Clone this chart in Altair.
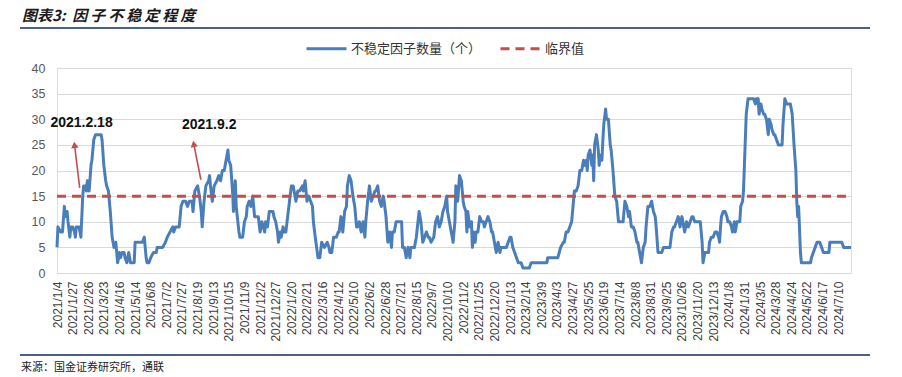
import altair as alt
import pandas as pd

# ---------------- data ----------------
x_labels = [
    "2021/1/4", "2021/1/27", "2021/2/26", "2021/3/23", "2021/4/16", "2021/5/14",
    "2021/6/8", "2021/7/2", "2021/7/27", "2021/8/19", "2021/9/13", "2021/10/15",
    "2021/11/9", "2021/12/2", "2021/12/27", "2022/1/20", "2022/2/21", "2022/3/16",
    "2022/4/12", "2022/5/10", "2022/6/2", "2022/6/28", "2022/7/21", "2022/8/15",
    "2022/9/7", "2022/10/10", "2022/11/2", "2022/11/25", "2022/12/20", "2023/1/13",
    "2023/2/14", "2023/3/9", "2023/4/3", "2023/4/27", "2023/5/25", "2023/6/19",
    "2023/7/14", "2023/8/8", "2023/8/31", "2023/9/25", "2023/10/26", "2023/11/20",
    "2023/12/13", "2024/1/8", "2024/1/31", "2024/3/5", "2024/3/28", "2024/4/24",
    "2024/5/22", "2024/6/17", "2024/7/10",
]
label_step = 17          # trading days between axis labels
last_day = 864           # index of the last trading day shown

# (trading-day index, number of unstable factors)
points = [
    (0, 5), (1, 9), (4, 8), (6, 8), (8, 13), (9, 11), (11, 12), (12, 10), (14, 7), (15, 9),
    (17, 9), (19, 8), (20, 7), (21, 9), (24, 9), (26, 7), (28, 15), (29, 17), (31, 17), (32, 16),
    (33, 18), (35, 16), (37, 21), (38, 22), (40, 26), (42, 27), (48, 27), (49, 26), (51, 21), (53, 18),
    (54, 17), (56, 16), (58, 12), (60, 7), (62, 5), (64, 6), (66, 2), (68, 4), (69, 3), (71, 4),
    (73, 4), (74, 3), (76, 2), (78, 4), (80, 2), (84, 2), (85, 6), (89, 6), (93, 6), (95, 7),
    (97, 3), (98, 2), (100, 2), (102, 3), (105, 4), (108, 4), (109, 5), (115, 5), (118, 6), (120, 7),
    (123, 8), (126, 9), (127, 8), (129, 9), (133, 9), (135, 13), (137, 14),
    (140, 14), (142, 13), (144, 14), (147, 14), (148, 12), (150, 16), (153, 17), (155, 15), (157, 12),
    (158, 9), (160, 14), (162, 17), (165, 18), (166, 19), (167, 17), (169, 14), (171, 17), (174, 18),
    (176, 19), (178, 18), (180, 20), (182, 20), (184, 22), (186, 24), (187, 22), (189, 21), (191, 16),
    (192, 12), (194, 18), (195, 13), (198, 8), (199, 7), (202, 7), (204, 10), (206, 11), (207, 13),
    (209, 14), (211, 13), (213, 15), (215, 11), (217, 11), (219, 11), (221, 8), (223, 10), (226, 8),
    (227, 10), (229, 9), (231, 12), (235, 12), (236, 11), (238, 10), (240, 8), (241, 6), (243, 8),
    (244, 7), (246, 9), (247, 8), (249, 8), (251, 11), (253, 14), (255, 17), (257, 17), (259, 15),
    (260, 14), (262, 16), (264, 16), (267, 17), (268, 16), (270, 18), (272, 14), (274, 15), (276, 14),
    (278, 13),
    (279, 10), (281, 7), (284, 3), (286, 3), (288, 6), (291, 5), (294, 6), (296, 5), (297, 4),
    (299, 4), (301, 7), (304, 7), (306, 8), (307, 8), (309, 11), (311, 8), (313, 12), (315, 13),
    (316, 17), (318, 19), (320, 18), (322, 15), (324, 13), (326, 9), (327, 9), (329, 10), (331, 8),
    (333, 10), (335, 7), (336, 10), (338, 14), (340, 17), (342, 14), (344, 15), (346, 16), (347, 16),
    (349, 17), (351, 14), (353, 13), (355, 15), (356, 14), (358, 11), (360, 6), (362, 8), (364, 5),
    (365, 8), (367, 8), (369, 10), (373, 10), (375, 10), (376, 5), (378, 5), (380, 3), (382, 5),
    (384, 3), (385, 5), (389, 5), (391, 7), (394, 12), (396, 10), (398, 6), (400, 7), (402, 8),
    (404, 7), (405, 7), (407, 6), (410, 7), (412, 10), (414, 11),
    (416, 9), (418, 10), (420, 12), (422, 13), (424, 15), (425, 12), (427, 10), (429, 8), (431, 6),
    (433, 10), (434, 17), (436, 14), (438, 19), (440, 18), (442, 14), (443, 13), (445, 12), (446, 8),
    (447, 12), (449, 9), (451, 10), (452, 5), (453, 8), (455, 6), (456, 8), (458, 8), (460, 11),
    (462, 10), (464, 10), (465, 9), (467, 10), (469, 11), (471, 10), (473, 8), (474, 8), (476, 6),
    (478, 4), (480, 6), (482, 4), (483, 5), (485, 5), (489, 5), (491, 6), (493, 7), (494, 7),
    (496, 5), (498, 4), (500, 3), (502, 2), (505, 2), (507, 1), (514, 1), (516, 2), (533, 2),
    (534, 3), (545, 3), (548, 5), (551, 6), (552, 6), (554, 8), (556, 8),
    (558, 9), (560, 10), (562, 14), (563, 16), (565, 16), (567, 17), (569, 20), (571, 20), (573, 22),
    (574, 21), (576, 22), (577, 20), (578, 23), (580, 24), (582, 21), (583, 23), (584, 18), (585, 25),
    (587, 27), (589, 24), (590, 21), (591, 23), (593, 22), (594, 26), (595, 29), (597, 32), (598, 30),
    (600, 30), (602, 25), (603, 24), (605, 20), (607, 15), (609, 14), (611, 10), (612, 10), (616, 10),
    (618, 14), (620, 13), (622, 11), (623, 12), (625, 9), (627, 9), (629, 8), (631, 6), (632, 6),
    (634, 4), (636, 2), (638, 5), (640, 6), (641, 9), (643, 13), (645, 13), (647, 14), (649, 12),
    (651, 11), (652, 9), (654, 4), (656, 4), (658, 4), (660, 5), (661, 5), (663, 5), (667, 5),
    (669, 8), (671, 9), (672, 9), (674, 10), (676, 11), (678, 9), (680, 11), (681, 10), (683, 8),
    (685, 10), (687, 9), (689, 10), (691, 11), (692, 11), (694, 10), (698, 10),
    (700, 10), (702, 6), (703, 2), (705, 4), (707, 4), (709, 4), (710, 6), (712, 7), (714, 7),
    (716, 8), (718, 8), (720, 7), (721, 6), (722, 9), (723, 11), (725, 12), (727, 12), (729, 11),
    (730, 10), (732, 10), (734, 9), (735, 8), (737, 10), (738, 8), (740, 10), (743, 10), (744, 13),
    (746, 14), (747, 16), (749, 26), (750, 31), (752, 34), (758, 34), (760, 33), (761, 34), (763, 34),
    (764, 31), (766, 33), (767, 32), (769, 31), (770, 31), (772, 30), (774, 27), (775, 30), (777, 29),
    (778, 28), (780, 27), (781, 27), (783, 26), (785, 25), (789, 25), (790, 29), (792, 34), (794, 33),
    (798, 33), (800, 31), (801, 28), (802, 25), (804, 20), (805, 14), (806, 11), (807, 13), (809, 4),
    (810, 2), (820, 2), (821, 3), (825, 5), (827, 6), (830, 6), (832, 5), (834, 4), (840, 4),
    (841, 6), (843, 6), (854, 6), (856, 5), (864, 5),
]
day_idx = [p[0] for p in points]
factor_count = [p[1] for p in points]

threshold = 15
series_names = ["不稳定因子数量（个）", "临界值"]

ann_text = ["2021.2.18", "2021.9.2"]
ann_text_x = [26.7, 165.6]
ann_text_y = [29.3, 28.9]
arrow_x0 = [24.7, 156.6]
arrow_y0 = [16.6, 18.2]
arrow_x1 = [19.1, 148.8]
arrow_y1 = [25.0, 25.2]
arrow_angle = [353, 349]

title_text = "图表3:\u2009 因\u2009子\u2009不\u2009稳\u2009定\u2009程\u2009度"
source_text = "来源：国金证券研究所，通联"

# ---------------- chart ----------------
BLUE = "#4A7EBB"
RED = "#C0504D"
CJK = "Noto Sans CJK SC"

line_df = pd.DataFrame({"idx": day_idx, "value": factor_count, "series": series_names[0]})
thr_df = pd.DataFrame({"idx": [0, last_day], "value": [threshold, threshold], "series": series_names[1]})
ann_df = pd.DataFrame({"text": ann_text, "x": ann_text_x, "y": ann_text_y})
arrow_df = pd.DataFrame({"x0": arrow_x0, "y0": arrow_y0, "x1": arrow_x1, "y1": arrow_y1, "angle": arrow_angle})

label_js = "[" + ",".join("'" + s + "'" for s in x_labels) + "]"
tick_vals = [i * label_step for i in range(len(x_labels))]

x_scale = alt.Scale(domain=[0, last_day], nice=False, zero=False)
y_scale = alt.Scale(domain=[0, 40], nice=False)

x_axis = alt.Axis(
    values=tick_vals, labelExpr=label_js + "[round(datum.value/" + str(label_step) + ")]",
    labelAngle=270, labelOverlap=False, labelSeparation=0, grid=False, ticks=False, domain=False,
    title=None, labelFont="Liberation Sans", labelFontSize=12, labelColor="#404040", labelPadding=8,
)
y_axis = alt.Axis(
    values=list(range(0, 41, 5)), grid=True, gridColor="#D9D9D9", gridWidth=1,
    ticks=False, domain=False, title=None, labelFont="Liberation Sans", labelFontSize=12.5,
    labelColor="#595959", labelPadding=12,
)

legend = alt.Legend(
    orient="none", legendX=248, legendY=-41, direction="horizontal", title=None,
    symbolType="stroke", symbolSize=1600, symbolStrokeWidth=3, labelFont=CJK,
    labelFontSize=13, labelColor="#333333", labelOffset=3, columnPadding=12, labelLimit=300,
)
color = alt.Color("series:N", scale=alt.Scale(domain=series_names, range=[BLUE, RED]), legend=legend)
dash = alt.StrokeDash("series:N", scale=alt.Scale(domain=series_names, range=[[1, 0], [9, 6]]), legend=legend)


def X(field):
    return alt.X(field, scale=x_scale, axis=x_axis)


def Y(field):
    return alt.Y(field, scale=y_scale, axis=y_axis)


main_line = alt.Chart(line_df).mark_line(strokeWidth=3, strokeJoin="round").encode(
    x=X("idx:Q"), y=Y("value:Q"), color=color, strokeDash=dash
)
thr_line = alt.Chart(thr_df).mark_line(strokeWidth=3).encode(
    x=X("idx:Q"), y=Y("value:Q"), color=color, strokeDash=dash
)

arrows = alt.Chart(arrow_df).mark_rule(color=RED, strokeWidth=1.6).encode(
    x=X("x0:Q"), y=Y("y0:Q"), x2="x1:Q", y2="y1:Q"
)
heads = alt.Chart(arrow_df).mark_point(shape="triangle-up", filled=True, color=RED, size=55, opacity=1).encode(
    x=X("x1:Q"), y=Y("y1:Q"), angle=alt.Angle("angle:Q", scale=None)
)
ann = alt.Chart(ann_df).mark_text(font="Liberation Sans", fontWeight="bold", fontSize=14, color="#111111").encode(
    x=X("x:Q"), y=Y("y:Q"), text="text:N"
)

deco_df = pd.DataFrame({"k": [0]})
title_mark = alt.Chart(deco_df).mark_text(
    text=title_text, font=CJK, fontSize=15, fontWeight="bold", fontStyle="italic",
    align="left", baseline="middle", color="#1a1a1a"
).encode(x=alt.value(-35), y=alt.value(-52))
top_rule = alt.Chart(deco_df).mark_rule(color="#4A6187", strokeWidth=2).encode(
    x=alt.value(-37), x2=alt.value(813), y=alt.value(-40)
)
bottom_rule = alt.Chart(deco_df).mark_rule(color="#4A6187", strokeWidth=2).encode(
    x=alt.value(-37), x2=alt.value(813), y=alt.value(287)
)
source_mark = alt.Chart(deco_df).mark_text(
    text=source_text, font=CJK, fontSize=11, align="left", baseline="middle", color="#222222"
).encode(x=alt.value(-36), y=alt.value(300))

chart = alt.layer(
    main_line, thr_line, arrows, heads, ann, title_mark, top_rule, bottom_rule, source_mark
).properties(
    width=794, height=205,
    autosize=alt.AutoSizeParams(type="none"),
    padding={"left": 57, "top": 68, "right": 51, "bottom": 104},
).configure_view(strokeWidth=0).configure_axis(labelOverlap=False).configure(background="white")

chart.save("out.html", embed_options={"renderer": "svg", "actions": False})
